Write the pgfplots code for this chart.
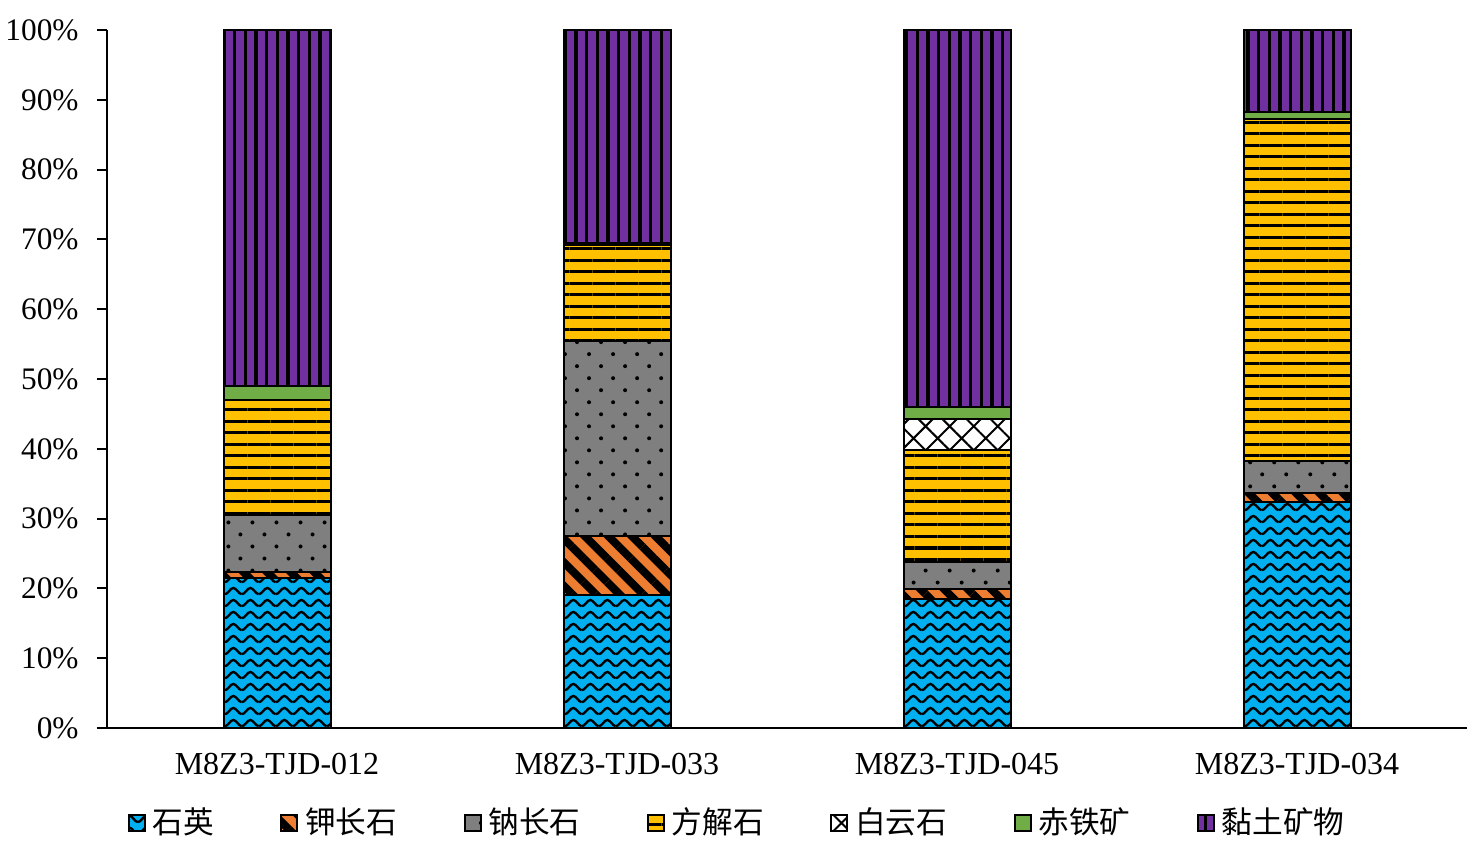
\documentclass[border=0pt]{standalone}
\usepackage{pgfplots}
\pgfplotsset{compat=1.18}
\usetikzlibrary{patterns.meta}
\usepackage{fontspec}
\setmainfont{Liberation Serif}
\newfontfamily\cjk{Noto Sans CJK SC}

\definecolor{quartz}{HTML}{00B0F0}
\definecolor{kfeld}{HTML}{ED7D31}
\definecolor{albite}{HTML}{7F7F7F}
\definecolor{calcite}{HTML}{FFC000}
\definecolor{hematite}{HTML}{70AD47}
\definecolor{clay}{HTML}{7030A0}

% wavy lines for quartz
\tikzdeclarepattern{
  name=waves,
  bottom left={(0pt,0pt)},
  top right={(5.2pt,3.6pt)},
  tile size={(5.2pt,3.6pt)},
  code={
    \draw[line width=0.75pt] (0pt,0.6pt) cos (1.3pt,1.6pt) sin (2.6pt,2.6pt)
      cos (3.9pt,1.6pt) sin (5.2pt,0.6pt);
  }
}

\pgfplotstableread{
x  quartz kfeld albite calcite dolomite hematite clay
0  21.5   0.8   8.2    16.5    0.0      2.0      51.0
1  19.0   8.5   28.0   13.7    0.0      0.3      30.5
2  18.5   1.4   3.9    16.0    4.5      1.7      54.0
3  32.4   1.3   4.6    48.9    0.0      1.0      11.8
}\datatable

\begin{document}
\begin{tikzpicture}
\path[use as bounding box] (-32.1pt,-35.7pt) rectangle (411pt,218.4pt);
\begin{axis}[
    at={(0,0)}, anchor=south west,
    width=408pt, height=209.4pt, scale only axis,
    ybar stacked, bar width=32.1pt,
    xmin=-0.5, xmax=3.5, ymin=0, ymax=100,
    xtick={0,1,2,3},
    xticklabels={M8Z3-TJD-012,M8Z3-TJD-033,M8Z3-TJD-045,M8Z3-TJD-034},
    ytick={0,10,...,100},
    yticklabel={\pgfmathprintnumber{\tick}\%},
    /pgf/number format/assume math mode=true,
    axis x line*=bottom, axis y line*=left,
    axis line style={line width=0.6pt},
    tick align=outside, major tick length=3pt,
    major tick style={line width=0.6pt, black},
    major x tick style={draw=none},
    yticklabel style={font=\fontsize{9.4}{11}\selectfont, xshift=-2pt},
    xticklabel style={font=\fontsize{9.6}{11}\selectfont, yshift=-1pt},
    enlarge x limits=false,
    every axis plot/.append style={draw=black, line width=0.6pt},
    area legend,
    legend image code/.code={\draw[#1, line width=0.6pt] (0pt,-2.4pt) rectangle (4.8pt,2.4pt);},
    legend columns=7,
    legend style={at={(0.465,-0.136)}, anchor=center, draw=none,
      font=\cjk\fontsize{9.2}{11}\selectfont,
      /tikz/every even column/.append style={column sep=18pt},
      inner sep=0pt},
]
\addplot[fill=quartz, postaction={pattern=waves}] table[x=x, y=quartz] {\datatable};
\addlegendentry{石英}
\addplot[fill=kfeld, postaction={pattern={Lines[angle=-45, distance=5pt, line width=2.4pt]}}] table[x=x, y=kfeld] {\datatable};
\addlegendentry{钾长石}
\addplot[fill=albite, postaction={pattern={Dots[angle=45, distance=5.1pt, radius=0.6pt]}}] table[x=x, y=albite] {\datatable};
\addlegendentry{钠长石}
\addplot[fill=calcite, postaction={pattern={Lines[angle=0, distance=3.45pt, line width=0.9pt]}}] table[x=x, y=calcite] {\datatable};
\addlegendentry{方解石}
\addplot[fill=white, postaction={pattern={Hatch[angle=45, distance=5.1pt, line width=0.6pt]}}] table[x=x, y=dolomite] {\datatable};
\addlegendentry{白云石}
\addplot[fill=hematite] table[x=x, y=hematite] {\datatable};
\addlegendentry{赤铁矿}
\addplot[fill=clay, postaction={pattern={Lines[angle=90, distance=3.2pt, line width=1pt]}}] table[x=x, y=clay] {\datatable};
\addlegendentry{黏土矿物}
\end{axis}
\end{tikzpicture}
\end{document}
